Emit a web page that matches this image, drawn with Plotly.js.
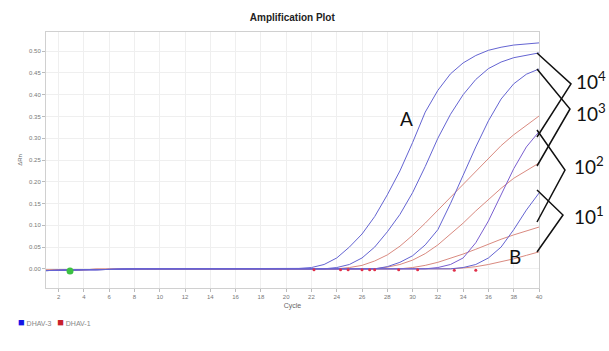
<!DOCTYPE html>
<html><head><meta charset="utf-8">
<script src="https://cdn.plot.ly/plotly-3.0.1.min.js"></script>
<style>html,body{margin:0;padding:0;background:#fff;}#chart{width:609px;height:351px;}</style>
</head><body><div id="chart"></div>
<script>
const cycles = [1,2,3,4,5,6,7,8,9,10,11,12,13,14,15,16,17,18,19,20,21,22,23,24,25,26,27,28,29,30,31,32,33,34,35,36,37,38,39,40];
// DHAV-3 (blue) curves
const blueA = [-0.004,-0.003,-0.003,-0.002,-0.002,-0.001,-0.001,0,0,0,0,0,0,0,0,0,0,0,0,0,0.001,0.003,0.010,0.025,0.050,0.080,0.120,0.170,0.225,0.290,0.360,0.410,0.448,0.473,0.490,0.502,0.509,0.514,0.517,0.519];
const blue4 = [-0.004,-0.003,-0.003,-0.002,-0.002,-0.001,-0.001,0,0,0,0,0,0,0,0,0,0,0,0,0,0,0,0,0.003,0.010,0.025,0.050,0.085,0.125,0.175,0.235,0.300,0.355,0.400,0.435,0.460,0.475,0.485,0.491,0.496];
const blue3 = [-0.004,-0.003,-0.003,-0.002,-0.002,-0.001,-0.001,0,0,0,0,0,0,0,0,0,0,0,0,0,0,0,0,0,0,0,0,0.005,0.015,0.030,0.055,0.090,0.150,0.215,0.280,0.340,0.390,0.425,0.447,0.459];
const blue2 = [-0.004,-0.003,-0.003,-0.002,-0.002,-0.001,-0.001,0,0,0,0,0,0,0,0,0,0,0,0,0,0,0,0,0,0,0,0,0,0,0,0,0.003,0.010,0.025,0.060,0.110,0.170,0.230,0.280,0.315];
const blue1 = [-0.004,-0.003,-0.003,-0.002,-0.002,-0.001,-0.001,0,0,0,0,0,0,0,0,0,0,0,0,0,0,0,0,0,0,0,0,0,0,0,0,0,0,0.003,0.010,0.025,0.050,0.090,0.135,0.174];
// DHAV-1 (red) curves
const red4 = [-0.003,-0.003,-0.002,-0.002,-0.001,-0.001,0,0,0,0,0,0,0,0,0,0,0,0,0,0,0,0,0,0,0.003,0.008,0.018,0.032,0.052,0.077,0.105,0.135,0.165,0.195,0.225,0.255,0.283,0.308,0.330,0.351];
const red3 = [-0.003,-0.003,-0.002,-0.002,-0.001,-0.001,0,0,0,0,0,0,0,0,0,0,0,0,0,0,0,0,0,0,0,0,0,0.004,0.010,0.020,0.035,0.055,0.080,0.105,0.133,0.160,0.185,0.208,0.226,0.243];
const red2 = [-0.003,-0.003,-0.002,-0.002,-0.001,-0.001,0,0,0,0,0,0,0,0,0,0,0,0,0,0,0,0,0,0,0,0,0,0,0,0.003,0.008,0.015,0.024,0.034,0.045,0.057,0.068,0.078,0.087,0.096];
const red1 = [-0.003,-0.003,-0.002,-0.002,-0.001,-0.001,0,0,0,0,0,0,0,0,0,0,0,0,0,0,0,0,0,0,0,0,0,0,0,0,0,0,0,0.002,0.005,0.010,0.016,0.023,0.031,0.039];
// baseline markers
const redMarkX = [22.2,24.3,24.9,26.0,26.6,27.0,28.9,30.4,33.3,35.0];
const redMarkY = [-0.002,-0.002,-0.002,-0.002,-0.002,-0.002,-0.002,-0.002,-0.003,-0.003];
const greenMarkX = [2.9];
const greenMarkY = [-0.005];
const legendNames = ["DHAV-3","DHAV-1"];
const legendColors = ["#1414e6","#c8202c"];
const bracketLabels = ["10<sup>4</sup>","10<sup>3</sup>","10<sup>2</sup>","10<sup>1</sup>"];

const BLUE = "#6464d2", PURPLE = "#7a5fd0", RED = "#d98a80";
const blues = [blueA, blue4, blue3, blue2, blue1];
const reds = [red4, red3, red2, red1];
const traces = [];
reds.forEach(v => traces.push({x:cycles,y:v,type:"scatter",mode:"lines",line:{color:RED,width:1},showlegend:false,hoverinfo:"skip"}));
blues.forEach((v,i) => traces.push({x:cycles,y:v,type:"scatter",mode:"lines",line:{color:i===3?PURPLE:BLUE,width:1},showlegend:false,hoverinfo:"skip"}));
traces.push({x:redMarkX,y:redMarkY,type:"scatter",mode:"markers",marker:{color:"#e0304a",size:3},showlegend:false});
traces.push({x:greenMarkX,y:greenMarkY,type:"scatter",mode:"markers",marker:{color:"#3cc043",size:7},showlegend:false});

const L=46, R=70, T=32, B=63, W=609, H=351;
const pw = W-L-R, ph = H-T-B;
const px = x => (x-L)/pw, py = y => (H-B-y)/ph;
function bracket(x0,y0,xt,yt,x1,y1){
  return {type:"path",xref:"paper",yref:"paper",
    path:`M ${px(x0)} ${py(y0)} L ${px(xt)} ${py(yt)} L ${px(x1)} ${py(y1)}`,
    line:{color:"#111",width:1.5}};
}
const shapes = [
  bracket(537,53,571,84,537,137),
  bracket(537,69,570,109,537,166),
  bracket(537,130,565,170,537,222),
  bracket(537,190,563,215,537,252)
];
const labelPos = [[574,80],[574,112],[572,165],[572,215]];
const annotations = bracketLabels.map((t,i)=>({xref:"paper",yref:"paper",x:px(labelPos[i][0]),y:py(labelPos[i][1]),
  text:t,showarrow:false,xanchor:"left",yanchor:"middle",font:{family:"Lato, 'Open Sans', sans-serif",size:19,color:"#111"}}));
annotations.push({xref:"paper",yref:"paper",x:px(415),y:py(105),text:"A",showarrow:false,font:{family:"Lato, sans-serif",size:19,color:"#111"}});
annotations.push({xref:"paper",yref:"paper",x:px(523),y:py(270),text:"B",showarrow:false,font:{family:"Lato, sans-serif",size:19,color:"#111"}});
// compact legend
annotations.push({xref:"paper",yref:"paper",x:px(16),y:py(322),xanchor:"left",yanchor:"middle",showarrow:false,
  text:`<span style="color:${legendColors[0]};font-size:11px">■</span> ${legendNames[0]}   <span style="color:${legendColors[1]};font-size:11px">■</span> ${legendNames[1]}`,
  font:{family:"Liberation Sans, Arial",size:7,color:"#888"}});

const layout = {
  width:W,height:H,margin:{l:L,r:R,t:T,b:B},
  paper_bgcolor:"#fff",plot_bgcolor:"#fff",showlegend:false,
  title:{text:"<b>Amplification Plot</b>",x:0.48,xanchor:"center",y:0.95,yanchor:"middle",font:{family:"Liberation Sans, Arial",size:10,color:"#222"}},
  xaxis:{range:[1,40],tick0:2,dtick:2,showgrid:true,gridcolor:"#efefef",zeroline:false,
    showline:true,linecolor:"#d0d0d0",mirror:true,ticks:"outside",ticklen:3,tickcolor:"#bbb",
    tickfont:{family:"Liberation Sans, Arial",size:6,color:"#777"},
    title:{text:"Cycle",font:{family:"Liberation Sans, Arial",size:7,color:"#666"},standoff:3}},
  yaxis:{range:[-0.044,0.544],tick0:0,dtick:0.05,tickformat:".2f",showgrid:true,gridcolor:"#efefef",zeroline:false,
    showline:true,linecolor:"#d0d0d0",mirror:true,ticks:"outside",ticklen:3,tickcolor:"#bbb",
    tickfont:{family:"Liberation Sans, Arial",size:6,color:"#777"},
    title:{text:"ΔRn",font:{family:"Liberation Sans, Arial",size:6,color:"#666"},standoff:6}},
  shapes:shapes,annotations:annotations
};
Plotly.newPlot("chart",traces,layout,{displayModeBar:false,staticPlot:true});
</script></body></html>
